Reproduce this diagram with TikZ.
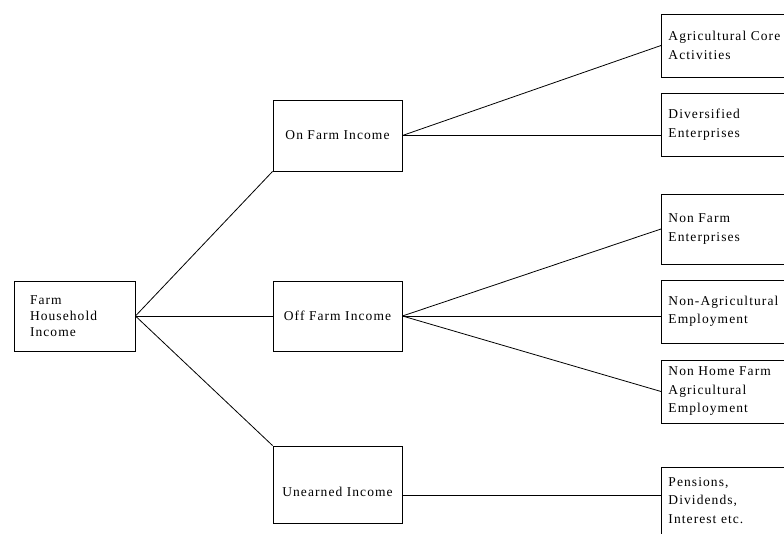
\documentclass[tikz,border=0pt]{standalone}
\usepackage{fontspec}
\setmainfont{Liberation Serif}[LetterSpace=8]
\begin{document}
\begin{tikzpicture}[x=1pt,y=-1pt,
  box/.style={draw, line width=0.9pt, rectangle, inner sep=0pt},
  midbox/.style={box, minimum width=129pt, font=\fontsize{13.5}{18.5}\selectfont},
  rbox/.style={box, anchor=west, text width=130pt, align=left, inner xsep=7pt,
    font=\fontsize{13.5}{18.5}\selectfont},
  conn/.style={line width=0.8pt}]
\useasboundingbox (0,0) rectangle (784,534);
% left
\node[box, minimum width=121pt, minimum height=70pt, text width=89pt, align=left,
  inner xsep=16pt, font=\fontsize{13.5}{15.8}\selectfont] (farm) at (74.5,316) {\raisebox{-2pt}{Farm}\\\raisebox{-2pt}{Household}\\\raisebox{-2pt}{Income}};
% middle
\node[midbox, minimum height=71pt] (onfarm) at (337.5,135.5) {\raisebox{-2pt}{On Farm Income}};
\node[midbox, minimum height=70pt] (offfarm) at (337.5,316) {\raisebox{-1pt}{Off Farm Income}};
\node[midbox, minimum height=77pt] (unearned) at (337.5,484.5) {\raisebox{-12pt}[0pt][0pt]{Unearned Income}};
% right
\node[rbox, minimum height=63pt] (agri) at (661,45.5) {Agricultural Core\\Activities};
\node[rbox, minimum height=63pt] (div) at (661,124.5) {Diversified\\Enterprises};
\node[rbox, minimum height=70pt] (nonfarm) at (661,229) {Non Farm\\Enterprises};
\node[rbox, minimum height=63pt] (nonagr) at (661,311.5) {Non-Agricultural\\Employment};
\node[rbox, minimum height=63pt] (nonhome) at (661,391.5) {Non Home Farm\\Agricultural\\Employment};
\node[rbox, anchor=north west, minimum height=84pt] (pens) at (661,467) {Pensions,\\Dividends,\\Interest etc.\\\mbox{}};
\coordinate (pj) at (661,495);
% connectors
\draw[conn] (farm.east) -- (onfarm.south west);
\draw[conn] (farm.east) -- (offfarm.west);
\draw[conn] (farm.east) -- (unearned.north west);
\draw[conn] (onfarm.east) -- (agri.west);
\draw[conn] (onfarm.east) -- (onfarm.east -| div.west);
\draw[conn] (offfarm.east) -- (nonfarm.west);
\draw[conn] (offfarm.east) -- (offfarm.east -| nonagr.west);
\draw[conn] (offfarm.east) -- (nonhome.west);
\draw[conn] (unearned.east |- pj) -- (pj);
\end{tikzpicture}
\end{document}
